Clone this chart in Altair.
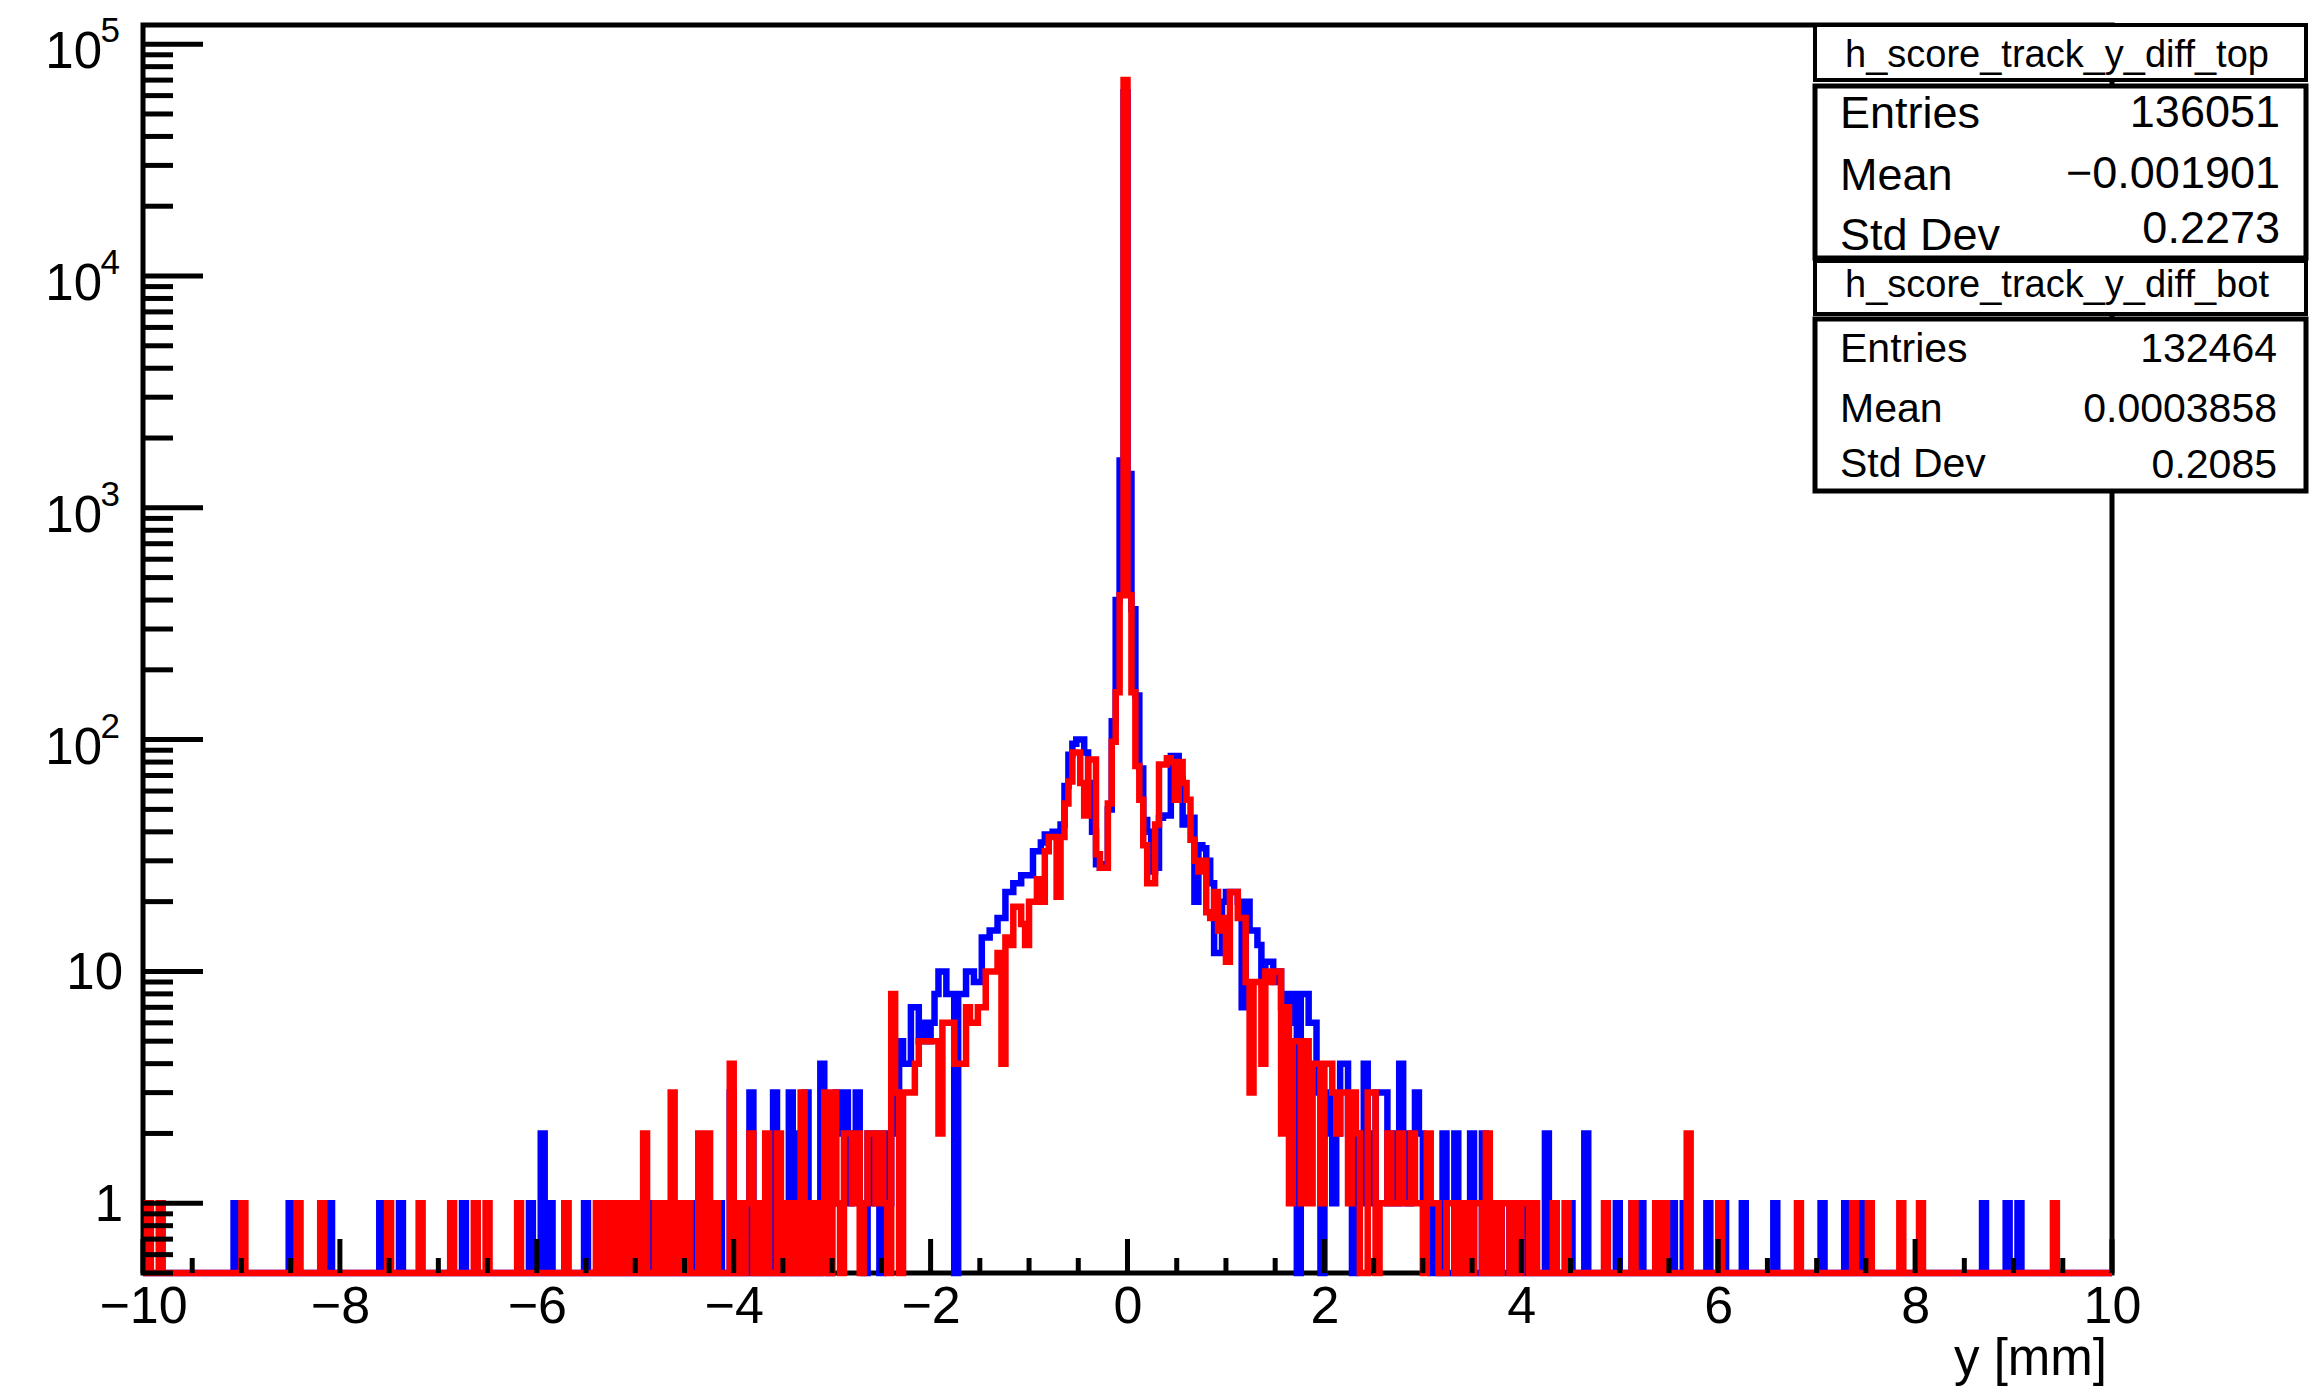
import altair as alt
import numpy as np
import pandas as pd

# ---------------- data ----------------
X_MIN, X_MAX, BIN_W = -10.0, 10.0, 0.04
N_BINS = 500
CORE_START = -3.0          # first core bin edge, core = 150 bins of 0.04 mm

# h_score_track_y_diff_top (blue), bins from -3.00 to 3.00
TOP_CORE = [
    1, 3, 2, 3, 1, 2, 3, 1, 0, 2,
    1, 2, 0, 2, 1, 2, 3, 5, 4, 4,
    7, 7, 5, 6, 5, 6, 8, 10, 10, 8,
    8, 0, 8, 8, 10, 10, 9, 9, 14, 14,
    15, 15, 17, 17, 22, 22, 24, 24, 26, 26,
    26, 33, 33, 36, 39, 39, 40, 40, 43, 63,
    86, 96, 100, 100, 88, 65, 40, 29, 28, 29,
    50, 120, 400, 1600, 62000, 1400, 365, 155, 75, 45,
    40, 27, 28, 46, 47, 47, 85, 85, 68, 43,
    46, 46, 20, 35, 34, 30, 24, 12, 12, 20,
    22, 22, 22, 20, 7, 20, 15, 15, 13, 9,
    11, 11, 9, 10, 7, 8, 6, 8, 0, 8,
    8, 6, 6, 3, 0, 2, 3, 1, 2, 4,
    4, 2, 0, 2, 1, 4, 2, 1, 3, 3,
    3, 1, 2, 1, 4, 2, 1, 2, 3, 2,
]
# h_score_track_y_diff_bot (red), bins from -3.00 to 3.00
BOT_CORE = [
    3, 1, 0, 2, 2, 1, 2, 0, 1, 2,
    2, 1, 2, 1, 0, 8, 3, 0, 3, 3,
    3, 4, 5, 5, 5, 5, 5, 2, 6, 6,
    6, 4, 4, 4, 7, 6, 6, 7, 7, 10,
    10, 10, 12, 4, 14, 13, 19, 19, 16, 13,
    20, 20, 25, 20, 33, 38, 38, 21, 38, 53,
    66, 88, 88, 65, 47, 82, 82, 32, 28, 28,
    53, 98, 160, 420, 70000, 420, 160, 77, 55, 35,
    24, 24, 43, 78, 78, 83, 80, 55, 80, 65,
    55, 37, 30, 27, 30, 18, 17, 22, 15, 17,
    11, 22, 22, 17, 17, 9, 3, 9, 9, 4,
    10, 9, 10, 10, 2, 7, 1, 5, 5, 1,
    5, 1, 4, 4, 1, 4, 4, 3, 2, 3,
    3, 1, 3, 2, 0, 0, 3, 3, 0, 1,
    1, 2, 1, 1, 2, 1, 1, 2, 1, 1,
]
# sparse tails (bin centre, count)
TOP_TAIL_X = [-9.06, -8.50, -8.10, -7.58, -7.38,
              -6.74, -6.06, -5.94, -5.86, -5.70,
              -5.50, -5.26, -5.10, -4.94, -4.82,
              -4.66, -4.42, -4.30, -4.14, -4.02,
              -3.90, -3.82, -3.70, -3.58, -3.50,
              -3.42, -3.34, -3.26, -3.18, -3.10,
              -3.06,
              3.02, 3.06, 3.14, 3.22, 3.34,
              3.42, 3.50, 3.62, 3.70, 3.78,
              3.90, 3.98, 4.06, 4.26, 4.34,
              4.50, 4.66, 4.98, 5.14, 5.22,
              5.54, 5.66, 5.90, 6.06, 6.26,
              6.58, 7.06, 7.30, 7.46, 8.70,
              8.94, 9.06]
TOP_TAIL_N = [1, 1, 1, 1, 1,
              1, 1, 2, 1, 1,
              1, 1, 1, 1, 1,
              1, 1, 1, 1, 3,
              1, 3, 1, 3, 1,
              3, 2, 3, 1, 4,
              2,
              1, 1, 1, 2, 2,
              1, 2, 2, 1, 1,
              1, 1, 1, 2, 1,
              1, 2, 1, 1, 1,
              1, 1, 1, 1, 1,
              1, 1, 1, 1, 1,
              1, 1]
BOT_TAIL_X = [-9.94, -9.82, -8.98, -8.42, -8.18,
              -7.50, -7.18, -6.86, -6.62, -6.50,
              -6.18, -5.70, -5.38, -5.30, -5.22,
              -5.14, -5.06, -4.98, -4.90, -4.78,
              -4.70, -4.62, -4.54, -4.46, -4.34,
              -4.26, -4.18, -4.02, -3.94, -3.86,
              -3.82, -3.74, -3.66, -3.54, -3.46,
              -3.38, -3.30, -3.22, -3.14, -3.06,
              3.06, 3.10, 3.14, 3.26, 3.30,
              3.38, 3.46, 3.54, 3.58, 3.66,
              3.74, 3.82, 3.86, 3.94, 4.02,
              4.06, 4.14, 4.34, 4.46, 4.86,
              5.14, 5.38, 5.46, 5.70, 6.02,
              6.82, 7.38, 7.54, 7.86, 8.06,
              9.42]
BOT_TAIL_N = [1, 1, 1, 1, 1,
              1, 1, 1, 1, 1,
              1, 1, 1, 1, 1,
              1, 1, 1, 2, 1,
              1, 3, 1, 1, 2,
              2, 1, 4, 1, 1,
              2, 1, 2, 2, 1,
              1, 3, 1, 1, 3,
              2, 1, 1, 1, 1,
              1, 1, 1, 1, 2,
              1, 1, 1, 1, 1,
              1, 1, 1, 1, 1,
              1, 1, 1, 2, 1,
              1, 1, 1, 1, 1,
              1]

X_LABELS = [-10, -8, -6, -4, -2, 0, 2, 4, 6, 8, 10]
X_MAJOR_TICKS = [-10, -8, -6, -4, -2, 0, 2, 4, 6, 8, 10]
X_MINOR_TICKS = [v / 2 for v in range(-20, 21) if v % 4 != 0]
Y_MAJOR_TICKS = [1, 10, 100, 1000, 10000, 100000]
Y_MINOR_TICKS = [0.5, 0.6, 0.7, 0.8, 0.9] + [k * 10 ** d for d in range(0, 5) for k in range(2, 10)]
Y_POW_VALUES = [100, 1000, 10000, 100000]
Y_POW_EXP = ["2", "3", "4", "5"]
Y_PLAIN_VALUES = [1, 10]
Y_PLAIN_TEXT = ["1", "10"]

STATS_TOP = [("Entries", "136051"), ("Mean", "\u22120.001901"), ("Std Dev", "0.2273")]
STATS_BOT = [("Entries", "132464"), ("Mean", "0.0003858"), ("Std Dev", "0.2085")]

Y_MIN, Y_MAX = 0.5, 121000

# ---------------- build step tables ----------------
def build_hist(core, tail_x, tail_n):
    counts = np.zeros(N_BINS)
    i0 = int(round((CORE_START - X_MIN) / BIN_W))
    counts[i0:i0 + len(core)] = core
    for x, n in zip(tail_x, tail_n):
        counts[int(np.floor((x - X_MIN) / BIN_W + 1e-9))] = n
    rows = [{"i": 0, "x": X_MIN, "c": 0.0}]
    for k in range(N_BINS):
        rows.append({"i": k + 1, "x": X_MIN + k * BIN_W, "c": counts[k]})
    rows.append({"i": N_BINS + 1, "x": X_MAX, "c": counts[-1]})
    rows.append({"i": N_BINS + 2, "x": X_MAX, "c": 0.0})
    df = pd.DataFrame(rows)
    df["y"] = df["c"].clip(lower=Y_MIN)
    return df

top_df = build_hist(TOP_CORE, TOP_TAIL_X, TOP_TAIL_N)
bot_df = build_hist(BOT_CORE, BOT_TAIL_X, BOT_TAIL_N)

# ---------------- chart ----------------
W, H = 1969, 1248
FONT = "Liberation Sans"
xscale = alt.Scale(domain=[X_MIN, X_MAX], nice=False, zero=False)
yscale = alt.Scale(type="log", domain=[Y_MIN, Y_MAX], nice=False)
xaxis = alt.Axis(values=X_LABELS, ticks=False, tickSize=0, domain=False, grid=False,
                 labelFont=FONT, labelFontSize=52, labelColor="black",
                 labelPadding=49, labelBaseline="alphabetic",
                 labelOverlap=False, labelFlush=False, labelBound=False, title=None)

def hist_layer(df, color):
    return alt.Chart(df).mark_line(interpolate="step-after", color=color, strokeWidth=6.5,
                                   strokeJoin="miter", strokeCap="butt").encode(
        x=alt.X("x:Q", scale=xscale, axis=xaxis),
        y=alt.Y("y:Q", scale=yscale, axis=None),
        order=alt.Order("i:Q"),
    )

blue = hist_layer(top_df, "#0000ff")
red = hist_layer(bot_df, "#ff0000")

def xtick_layer(vals, length):
    return alt.Chart(pd.DataFrame({"t": vals})).mark_rule(color="black", strokeWidth=5).encode(
        x=alt.X("t:Q", scale=xscale, axis=xaxis),
        y=alt.value(H), y2=alt.value(H - length))

def ytick_layer(vals, length):
    return alt.Chart(pd.DataFrame({"v": vals})).mark_rule(color="black", strokeWidth=5).encode(
        y=alt.Y("v:Q", scale=yscale, axis=None),
        x=alt.value(0), x2=alt.value(length))

xt_major = xtick_layer(X_MAJOR_TICKS, 34)
xt_minor = xtick_layer(X_MINOR_TICKS, 15)
yt_major = ytick_layer(Y_MAJOR_TICKS, 60)
yt_minor = ytick_layer(Y_MINOR_TICKS, 30)

pow_df = pd.DataFrame({"v": Y_POW_VALUES, "e": Y_POW_EXP, "b": ["10"] * len(Y_POW_VALUES)})
ylab_base = alt.Chart(pow_df).mark_text(font=FONT, fontSize=51, align="right",
                                        baseline="alphabetic", dy=24, color="black").encode(
    y=alt.Y("v:Q", scale=yscale, axis=None), x=alt.value(-41), text="b:N")
ylab_exp = alt.Chart(pow_df).mark_text(font=FONT, fontSize=35, align="right",
                                       baseline="alphabetic", dy=-2, color="black").encode(
    y=alt.Y("v:Q", scale=yscale, axis=None), x=alt.value(-23), text="e:N")
plain_df = pd.DataFrame({"v": Y_PLAIN_VALUES, "s": Y_PLAIN_TEXT})
ylab_plain = alt.Chart(plain_df).mark_text(font=FONT, fontSize=51, align="right",
                                           baseline="alphabetic", dy=18, color="black").encode(
    y=alt.Y("v:Q", scale=yscale, axis=None), x=alt.value(-20), text="s:N")

DUMMY = pd.DataFrame({"k": [0]})

def text_layer(txt, x, y, size, align="left"):
    return alt.Chart(DUMMY).mark_text(text=txt, font=FONT, fontSize=size, align=align,
                                      baseline="alphabetic", color="black").encode(
        x=alt.value(x), y=alt.value(y))

def box_layer(x1, x2, y1, y2, sw):
    return alt.Chart(DUMMY).mark_rect(fill="white", stroke="black", strokeWidth=sw).encode(
        x=alt.value(x1), x2=alt.value(x2), y=alt.value(y1), y2=alt.value(y2))

xtitle = text_layer("y [mm]", 1964, 1350, 51, "right")

BX1, BX2 = 1672, 2163
boxes = [
    box_layer(BX1, BX2, 0, 55, 4),
    box_layer(BX1, BX2, 61, 233, 5),
    box_layer(BX1, BX2, 236, 289, 4),
    box_layer(BX1, BX2, 294, 466, 5),
]
texts = [
    text_layer("h_score_track_y_diff_top", 1914, 42, 38, "center"),
    text_layer("h_score_track_y_diff_bot", 1914, 272, 38, "center"),
]
for (lab, val), yl, yv in zip(STATS_TOP, [103, 165, 225], [102, 163, 218]):
    texts.append(text_layer(lab, 1697, yl, 45, "left"))
    texts.append(text_layer(val, 2137, yv, 45, "right"))
for (lab, val), yl, yv in zip(STATS_BOT, [337, 397, 452], [337, 397, 453]):
    texts.append(text_layer(lab, 1697, yl, 41, "left"))
    texts.append(text_layer(val, 2134, yv, 41, "right"))

chart = alt.layer(
    blue, red, xt_major, xt_minor, yt_major, yt_minor,
    ylab_base, ylab_exp, ylab_plain, xtitle, *boxes, *texts
).properties(
    width=W, height=H,
    autosize=alt.AutoSizeParams(type="none"),
    padding={"left": 143, "top": 25, "right": 204, "bottom": 115},
    background="white",
).configure_view(stroke="black", strokeWidth=5)

chart.save("out.html", embed_options={"renderer": "svg", "actions": False})
